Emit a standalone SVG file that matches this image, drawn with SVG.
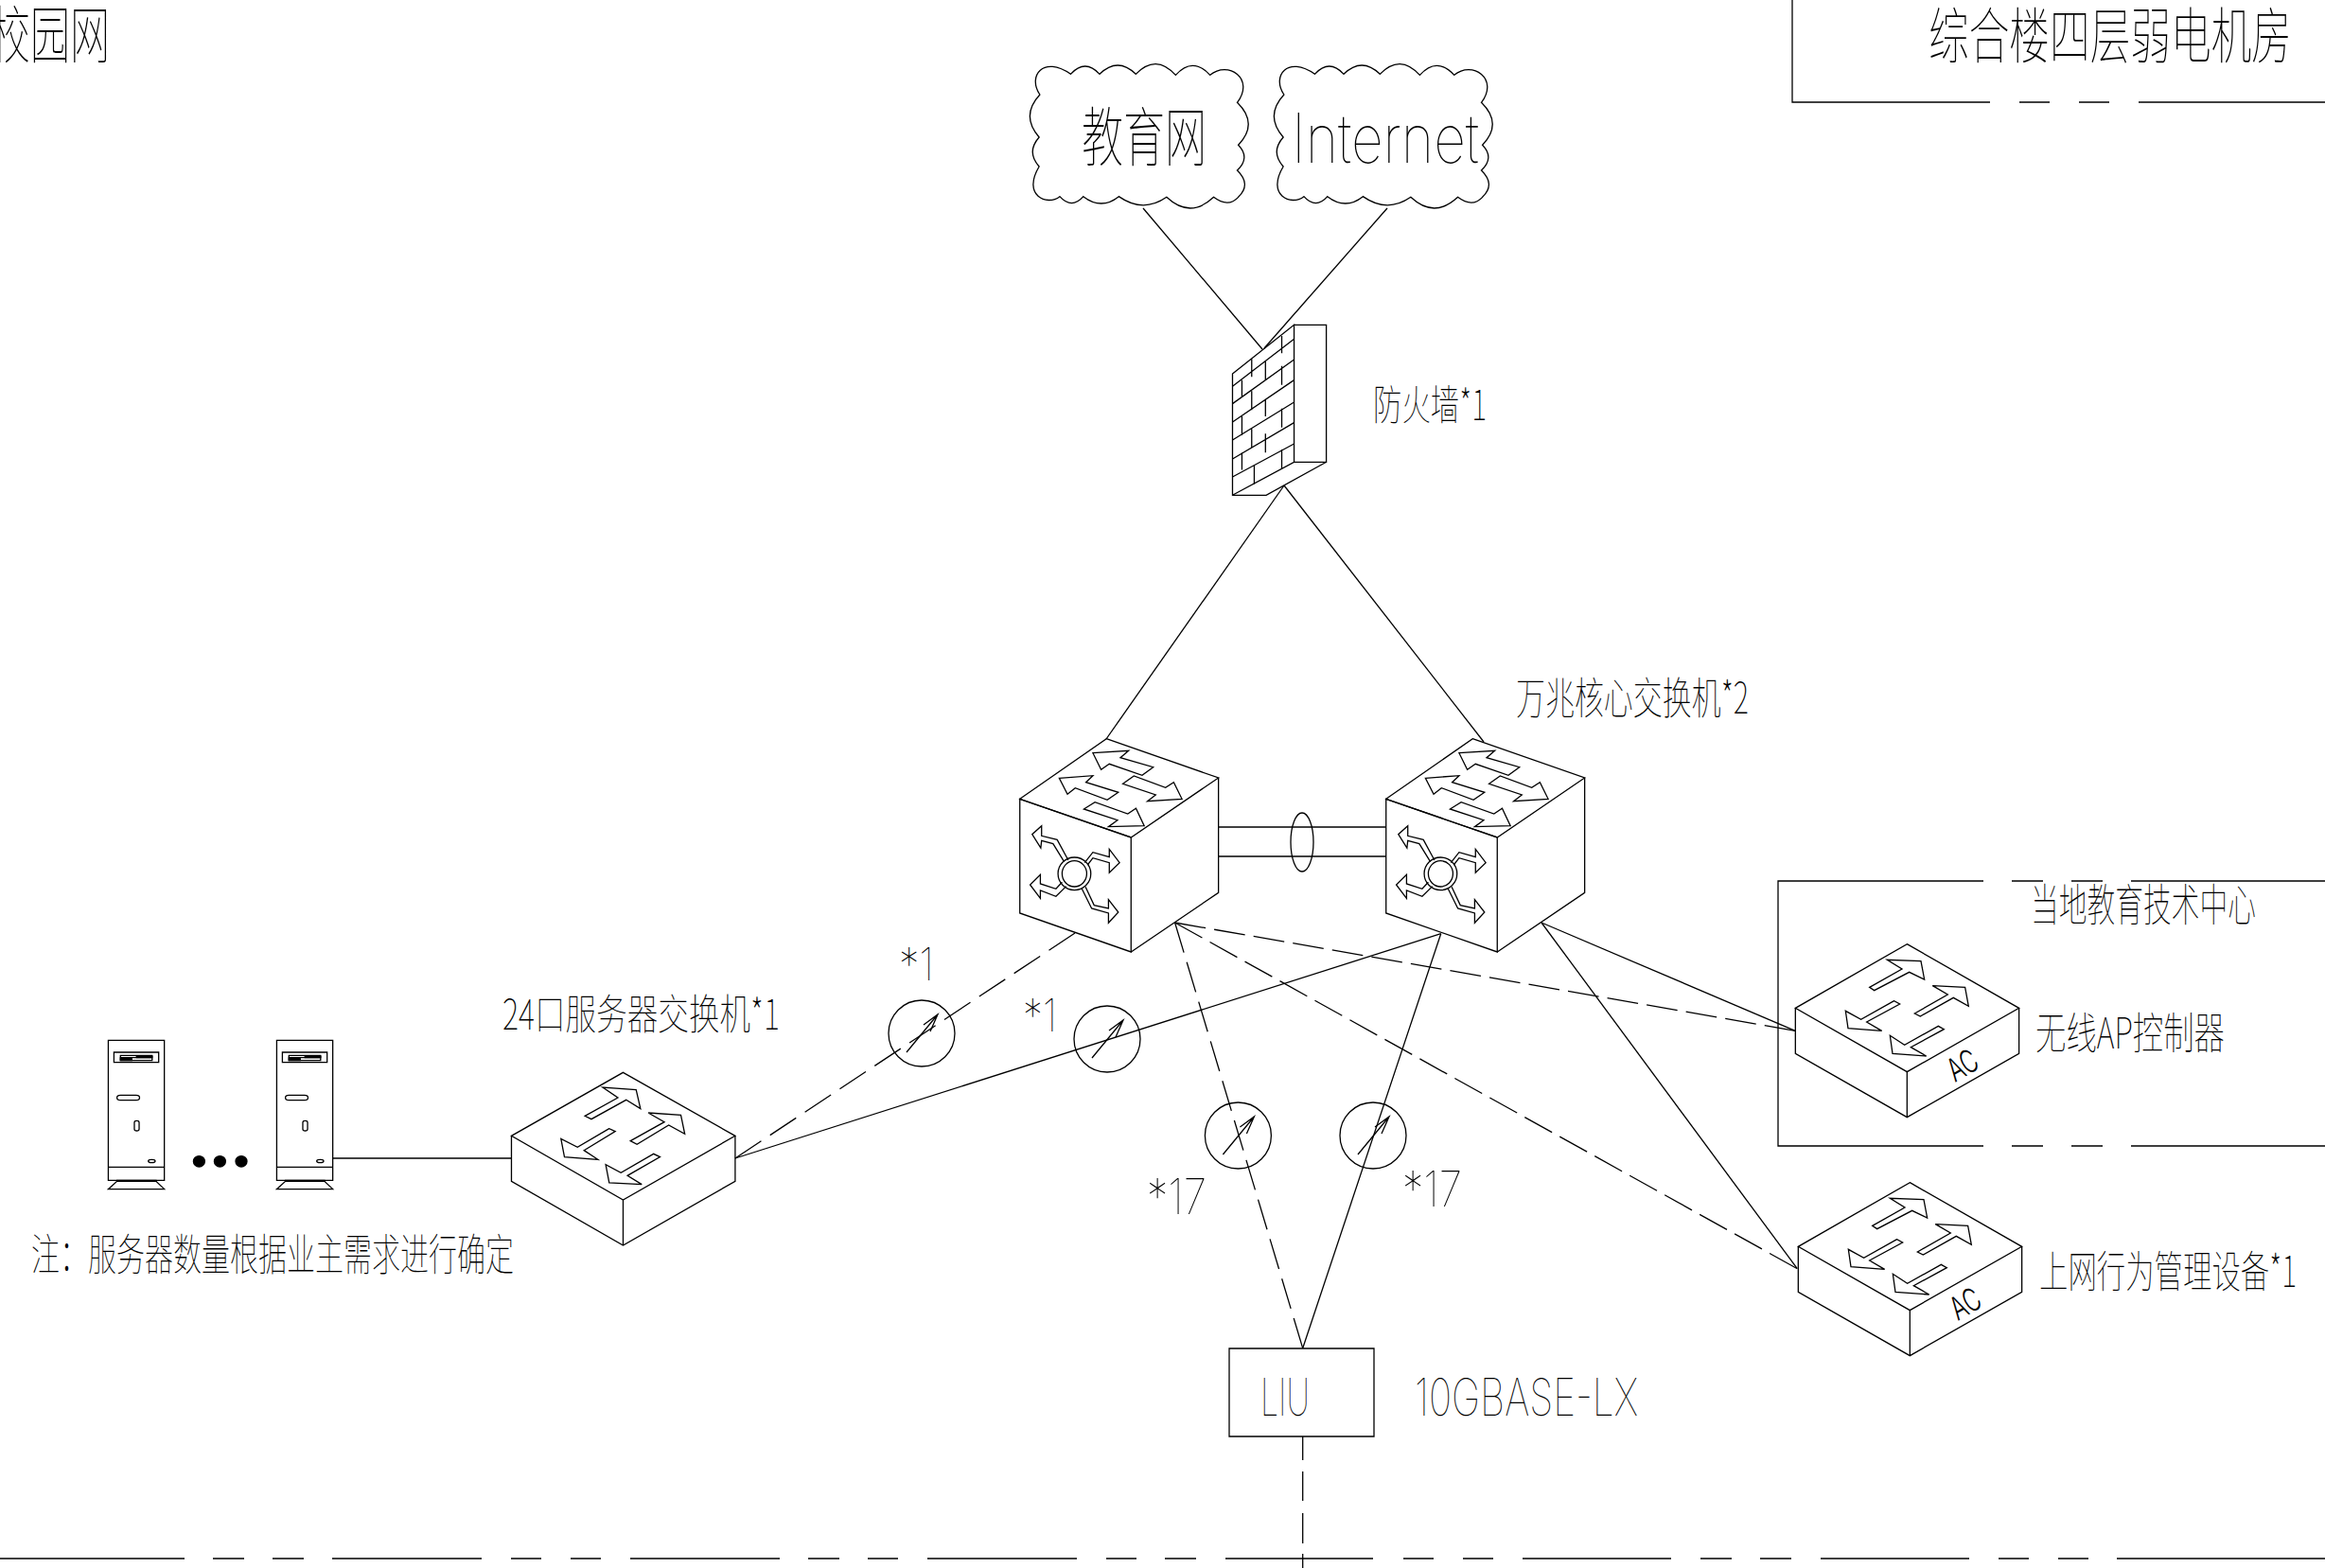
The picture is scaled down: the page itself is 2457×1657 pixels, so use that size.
<svg xmlns="http://www.w3.org/2000/svg" width="2457" height="1657" viewBox="0 0 2457 1657">
<style>
.s,defs{fill:none;stroke:#000;stroke-width:1.3}
.s *,defs *{vector-effect:non-scaling-stroke}
.k{fill:#000}
.c{font-family:"Noto Sans CJK SC","Liberation Sans",sans-serif;font-weight:100;fill:#000;stroke:none}
.l{font-family:"Inter","Roboto","Liberation Sans",sans-serif;font-weight:100;fill:#000;stroke:none}
.a{font-family:"Inter","Roboto","Liberation Sans",sans-serif;font-weight:300;fill:#000;stroke:none}
</style>
<defs>
<path id="cloud" d="M180 180C145 120 190 55 265 115Q305 65 345 115Q395 59 445 115Q500 49 555 118Q602 58 650 118C700 70 775 130 725 205Q785 272 728 340Q762 380 725 420Q765 465 728 505Q700 540 660 505Q595 575 530 505Q465 557 398 503Q350 547 300 503Q268 545 235 503C200 535 130 500 178 408Q142 362 178 315Q126 247 180 180Z"/>
<g id="cube">
<polygon points="298,62 571,186 358,375 87,253"/>
<polygon points="87,253 87,615 358,738 358,375"/>
<polyline points="571,186 571,550 358,738"/>
<polygon points="265,107 352,100 332,122 412,152 385,178 305,142 285,160"/>
<polygon points="183,187 265,179 248,200 327,232 300,256 222,218 203,238"/>
<polygon points="338,205 365,180 442,217 462,200 482,253 398,260 418,240"/>
<polygon points="243,285 270,263 350,300 370,283 390,338 303,341 325,320"/>
<ellipse cx="220" cy="490" rx="40" ry="52"/>
<ellipse cx="220" cy="490" rx="30" ry="41"/>
<polyline points="205,447 178,382 140,370 140,338 117,365 138,408 140,385 168,395 195,452"/>
<polyline points="245,455 265,422 305,437 305,412 330,455 305,487 305,455 265,440 252,462"/>
<polyline points="190,517 175,538 137,522 137,493 112,525 137,568 137,543 175,562 200,530"/>
<polyline points="247,532 268,590 303,600 303,572 327,612 303,646 303,615 262,600 238,537"/>
</g>
<g id="flat3">
<polygon points="1260,280 1518,481 1260,684 1003,481"/>
<polyline points="1003,481 1003,625 1260,828 1518,625 1518,481"/>
<line x1="1260" y1="684" x2="1260" y2="828"/>
<polygon points="1172,418 1248,360 1213,327 1290,335 1300,395 1267,367 1187,428"/>
<polygon points="1277,497 1355,437 1318,408 1393,415 1402,475 1365,447 1292,508"/>
<polygon points="1228,458 1155,517 1117,490 1125,548 1202,556 1170,527 1242,467"/>
<polygon points="1330,538 1255,598 1220,572 1228,630 1303,635 1270,607 1345,548"/>
</g>
<g id="ac">
<polygon points="466,143 821,346 466,548 112,346"/>
<polyline points="112,346 112,490 466,692 821,490 821,346"/>
<line x1="466" y1="548" x2="466" y2="692"/>
<polygon points="347,280 450,222 403,193 510,197 521,255 473,232 362,290"/>
<polygon points="490,363 595,303 547,275 650,280 661,340 613,313 508,372"/>
<polygon points="425,323 320,382 271,355 279,410 386,418 338,390 443,333"/>
<polygon points="565,403 458,463 412,433 420,490 527,498 478,470 583,413"/>
</g>
<g id="server">
<rect x="75" y="178" width="129" height="444"/>
<line x1="75" y1="580" x2="204" y2="580"/>
<rect x="88" y="216" width="103" height="32"/>
<rect x="103" y="226" width="73" height="16"/>
<line x1="103" y1="233" x2="176" y2="233"/>
<rect class="k" x="103" y="234" width="26" height="8"/>
<rect class="k" x="140" y="229" width="36" height="4"/>
<rect x="95" y="352" width="52" height="16" rx="8"/>
<rect x="135" y="433" width="11" height="32" rx="5.5"/>
<ellipse cx="175" cy="561" rx="8" ry="5"/>
<polygon points="95,625 185,625 204,650 75,650"/>
<rect class="k" x="95" y="622" width="90" height="3"/>
</g>
<g id="meter">
<circle cx="0" cy="0" r="35"/>
<path d="M-16 20L17-20M2-9L17-20L9-2"/>
</g>
</defs>

<g id="frames" class="s">
<path d="M1894 0V108H2103M2134 108H2166M2197 108H2229M2260 108H2457"/>
<path d="M2457 931H2252M2222 931H2189M2159 931H2126M2096 931H1879V1211H2096M2126 1211H2159M2189 1211H2222M2252 1211H2457"/>
<path d="M0 1647H195M225 1647H258M288 1647H321M351 1647H509M540 1647H572M603 1647H635M666 1647H824M854 1647H887M917 1647H949M980 1647H1138M1169 1647H1201M1231 1647H1264M1295 1647H1451M1483 1647H1515M1546 1647H1578M1609 1647H1766M1797 1647H1830M1860 1647H1893M1924 1647H2081M2112 1647H2144M2175 1647H2207M2237 1647H2457"/>
</g>

<g id="connectors" class="s">
<line x1="1208" y1="220" x2="1334" y2="369"/>
<line x1="1466" y1="220" x2="1336" y2="368"/>
<line x1="1357" y1="513" x2="1169" y2="781"/>
<line x1="1357" y1="513" x2="1568" y2="784"/>
<line x1="1288" y1="874" x2="1464.500" y2="874"/>
<line x1="1288" y1="905" x2="1464.500" y2="905"/>
<ellipse cx="1376" cy="890" rx="12" ry="31"/>
<line x1="1136" y1="986" x2="777" y2="1224" stroke-dasharray="33 11.200"/>
<line x1="1522.700" y1="986.700" x2="777" y2="1224"/>
<line x1="1241.600" y1="975" x2="1376.700" y2="1424.700" stroke-dasharray="33 10.650"/>
<line x1="1522.700" y1="986.700" x2="1376.700" y2="1424.700"/>
<line x1="1241.600" y1="975" x2="1897.300" y2="1089.300" stroke-dasharray="33 9.170"/>
<line x1="1241.600" y1="975" x2="1899.300" y2="1340.700" stroke-dasharray="33 9.300"/>
<line x1="1629" y1="975" x2="1897.300" y2="1089.300"/>
<line x1="1629" y1="975" x2="1899.300" y2="1340.700"/>
<line x1="352" y1="1224" x2="540.500" y2="1224"/>
<path d="M1376.700 1518V1543M1376.700 1555V1586M1376.700 1599V1631M1376.700 1642V1657"/>
</g>

<g id="cloud-edu" class="s"><g transform="translate(1030 40) scale(.3827 .3333)"><use href="#cloud"/></g>
<text class="c" x="1143" y="170" font-size="68" textLength="132" lengthAdjust="spacingAndGlyphs">教育网</text></g>
<g id="cloud-internet" class="s"><g transform="translate(1288 40) scale(.3827 .3333)"><use href="#cloud"/></g>
<text class="l" x="1365" y="172" font-size="72" textLength="198" lengthAdjust="spacingAndGlyphs">Internet</text></g>

<g id="firewall" class="s"><g transform="translate(1030 40) scale(.3827 .3333)">
<polygon points="712,1065 882,910 882,1345 712,1450"/>
<polyline points="882,910 971,910 971,1345 882,1345"/>
<polyline points="712,1450 805,1450 971,1345"/>
<path d="M712 1105L882 955M712 1160L882 1020M712 1218L882 1085M712 1275L882 1155M712 1335L882 1220M712 1392L882 1287M765 1018V1075M848 945V1000M738 1085V1140M803 1025V1085M765 1120V1180M848 1040V1100M738 1200V1260M803 1145V1200M765 1240V1300M848 1175V1235M738 1315V1370M803 1255V1315M772 1355V1415M848 1305V1365"/>
</g>
<text class="c" x="1451" y="444" font-size="44" textLength="120" lengthAdjust="spacingAndGlyphs">防火墙*1</text></g>

<g id="core-switch-1" class="s"><g transform="translate(1040 760) scale(.4337 .3333)"><use href="#cube"/></g></g>
<g id="core-switch-2" class="s"><g transform="translate(1427 760) scale(.4337 .3333)"><use href="#cube"/></g>
<text class="c" x="1602" y="754" font-size="46" textLength="246" lengthAdjust="spacingAndGlyphs">万兆核心交换机*2</text></g>

<g id="server-switch" class="s"><g transform="translate(80 1040) scale(.4591 .3333)"><use href="#flat3"/></g>
<text class="c" x="531" y="1088" font-size="44" textLength="293" lengthAdjust="spacingAndGlyphs">24口服务器交换机*1</text></g>

<g id="server-1" class="s"><g transform="translate(80 1040) scale(.4591 .3333)"><use href="#server"/></g></g>
<g id="server-2" class="s"><g transform="translate(258 1040) scale(.4591 .3333)"><use href="#server"/></g></g>
<g id="server-dots" class="s">
<ellipse class="k" cx="210.400" cy="1227.300" rx="6" ry="5.700"/>
<ellipse class="k" cx="232.400" cy="1227.300" rx="6" ry="5.700"/>
<ellipse class="k" cx="255" cy="1227.300" rx="6" ry="5.700"/>
</g>
<g id="note"><text class="c" x="33" y="1342" font-size="46" textLength="510" lengthAdjust="spacingAndGlyphs">注：服务器数量根据业主需求进行确定</text></g>

<g id="meter-1" class="s"><g transform="translate(974 1092)"><use href="#meter"/></g>
<text class="l" x="950" y="1036" font-size="48" textLength="37" lengthAdjust="spacingAndGlyphs">*1</text></g>
<g id="meter-2" class="s"><g transform="translate(1170 1098)"><use href="#meter"/></g>
<text class="l" x="1081" y="1090" font-size="48" textLength="36" lengthAdjust="spacingAndGlyphs">*1</text></g>
<g id="meter-3" class="s"><g transform="translate(1308.400 1200)"><use href="#meter"/></g>
<text class="l" x="1212" y="1283" font-size="52" textLength="63" lengthAdjust="spacingAndGlyphs">*17</text></g>
<g id="meter-4" class="s"><g transform="translate(1451 1200)"><use href="#meter"/></g>
<text class="l" x="1482" y="1275" font-size="52" textLength="63" lengthAdjust="spacingAndGlyphs">*17</text></g>

<g id="liu" class="s">
<rect x="1299" y="1425" width="153" height="93"/>
<text class="l" x="1332" y="1496" font-size="54" textLength="52" lengthAdjust="spacingAndGlyphs">LIU</text>
<text class="l" x="1495" y="1496" font-size="54" textLength="236" lengthAdjust="spacingAndGlyphs">10GBASE-LX</text>
</g>

<g id="ac-controller" class="s"><g transform="translate(1860 950) scale(.3333)"><use href="#ac"/></g>
<text class="a" transform="translate(2066 1144) rotate(-30)" font-size="34" textLength="32" lengthAdjust="spacingAndGlyphs">AC</text>
<text class="c" x="2151" y="1108" font-size="46" textLength="200" lengthAdjust="spacingAndGlyphs">无线AP控制器</text></g>
<g id="behavior-manager" class="s"><g transform="translate(1863 1202) scale(.3333)"><use href="#ac"/></g>
<text class="a" transform="translate(2069 1396) rotate(-30)" font-size="34" textLength="32" lengthAdjust="spacingAndGlyphs">AC</text>
<text class="c" x="2155" y="1360" font-size="46" textLength="272" lengthAdjust="spacingAndGlyphs">上网行为管理设备*1</text></g>

<text class="c" x="-10" y="61" font-size="66" textLength="126" lengthAdjust="spacingAndGlyphs">校园网</text>
<text class="c" x="2038" y="61" font-size="64" textLength="384" lengthAdjust="spacingAndGlyphs">综合楼四层弱电机房</text>
<text class="c" x="2146" y="973" font-size="47" textLength="238" lengthAdjust="spacingAndGlyphs">当地教育技术中心</text>
</svg>
